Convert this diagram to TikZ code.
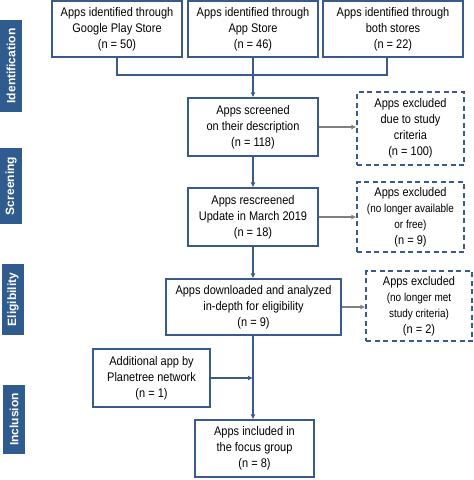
\documentclass[tikz,border=0pt]{standalone}
\usepackage{fontspec}
\setmainfont{Liberation Sans}
\newfontfamily\narrowsans[FakeStretch=0.88]{Liberation Sans}
\newfontfamily\tightsans[FakeStretch=0.86]{Liberation Sans}
\usetikzlibrary{arrows.meta}
\definecolor{boxblue}{HTML}{3A5A8C}
\definecolor{phaseblue}{HTML}{2F5B8F}
\definecolor{arrowgray}{HTML}{808080}
\tikzset{
    stagebox/.style={draw=boxblue, line width=1.3pt, fill=white, align=center,
        inner sep=2pt, font=\narrowsans\fontsize{12.5}{16}\selectfont},
    exclbox/.style={stagebox, dashed, dash pattern=on 5pt off 3.5pt},
    phase/.style={fill=phaseblue, text=white, rotate=90, inner sep=0pt,
        font=\fontsize{12}{14}\selectfont\bfseries},
    flow/.style={draw=boxblue, line width=1.1pt, -{Latex[length=5pt,width=5pt]}},
    drop/.style={draw=arrowgray, line width=1.1pt, -{Latex[length=5pt,width=5pt]}}
}
\newcommand{\smalltxt}{\tightsans\fontsize{11.6}{15}\selectfont}
\begin{document}
\begin{tikzpicture}[x=1pt, y=-1pt]
    \useasboundingbox (0,0) rectangle (474,480);

    % Phase labels down the left side
    \foreach \name/\y/\len/\x in {Identification/66/92/11, Screening/186/76/11,
        Eligibility/299.5/71/13, Inclusion/419.5/69/14}
        \node[phase, minimum width=\len pt, minimum height=22pt] (ph\name) at (\x,\y) {\name};

    % Identification
    \node[stagebox, minimum width=130pt, minimum height=56pt] (gplay) at (117,29)
        {Apps identified through\\Google Play Store\\(n = 50)};
    \node[stagebox, minimum width=130pt, minimum height=56pt] (appstore) at (253,29)
        {Apps identified through\\App Store\\(n = 46)};
    \node[stagebox, minimum width=140pt, minimum height=56pt] (bothstores) at (393,29)
        {Apps identified through\\both stores\\(n = 22)};
    \coordinate (merge) at (253,75);
    \coordinate (bothfoot) at (387,57);

    % Screening
    \node[stagebox, minimum width=130pt, minimum height=58pt] (screened) at (253,127)
        {Apps screened\\on their description\\(n = 118)};
    \node[exclbox, minimum width=107pt, minimum height=73pt] (exclA) at (410.5,128.5)
        {Apps excluded\\due to study\\criteria\\(n = 100)};
    \node[stagebox, minimum width=130pt, minimum height=58pt] (rescreened) at (253,217)
        {Apps rescreened\\Update in March 2019\\(n = 18)};
    \node[exclbox, minimum width=107pt, minimum height=70pt] (exclB) at (410.5,217)
        {Apps excluded\\{\smalltxt(no longer available}\\{\smalltxt or free)}\\(n = 9)};

    % Eligibility
    \node[stagebox, minimum width=175pt, minimum height=56pt] (downloaded) at (253.5,307)
        {Apps downloaded and analyzed\\in-depth for eligibility\\(n = 9)};
    \node[exclbox, minimum width=106pt, minimum height=70pt] (exclC) at (419,306)
        {Apps excluded\\{\smalltxt(no longer met}\\{\smalltxt study criteria)}\\(n = 2)};

    % Inclusion
    \node[stagebox, minimum width=117pt, minimum height=58pt] (extra) at (151.5,378)
        {Additional app by\\Planetree network\\(n = 1)};
    \node[stagebox, minimum width=119pt, minimum height=57pt] (included) at (254.5,448.5)
        {Apps included in\\the focus group\\(n = 8)};

    % Connectors
    \draw[boxblue, line width=1.1pt] (gplay.south) |- (merge) -| (bothfoot);
    \draw[flow] (appstore.south) -- (screened.north);
    \draw[flow] (screened.south) -- (rescreened.north);
    \draw[flow] (rescreened.south) -- (downloaded.north -| rescreened.south);
    \draw[flow] (downloaded.south -| rescreened.south) -- (included.north -| rescreened.south);
    \draw[flow] (extra.east) -- (extra.east -| rescreened.south);
    \draw[drop] (screened.east) -- (screened.east -| exclA.west);
    \draw[drop] (rescreened.east) -- (rescreened.east -| exclB.west);
    \draw[drop] (downloaded.east) -- (downloaded.east -| exclC.west);
\end{tikzpicture}
\end{document}
